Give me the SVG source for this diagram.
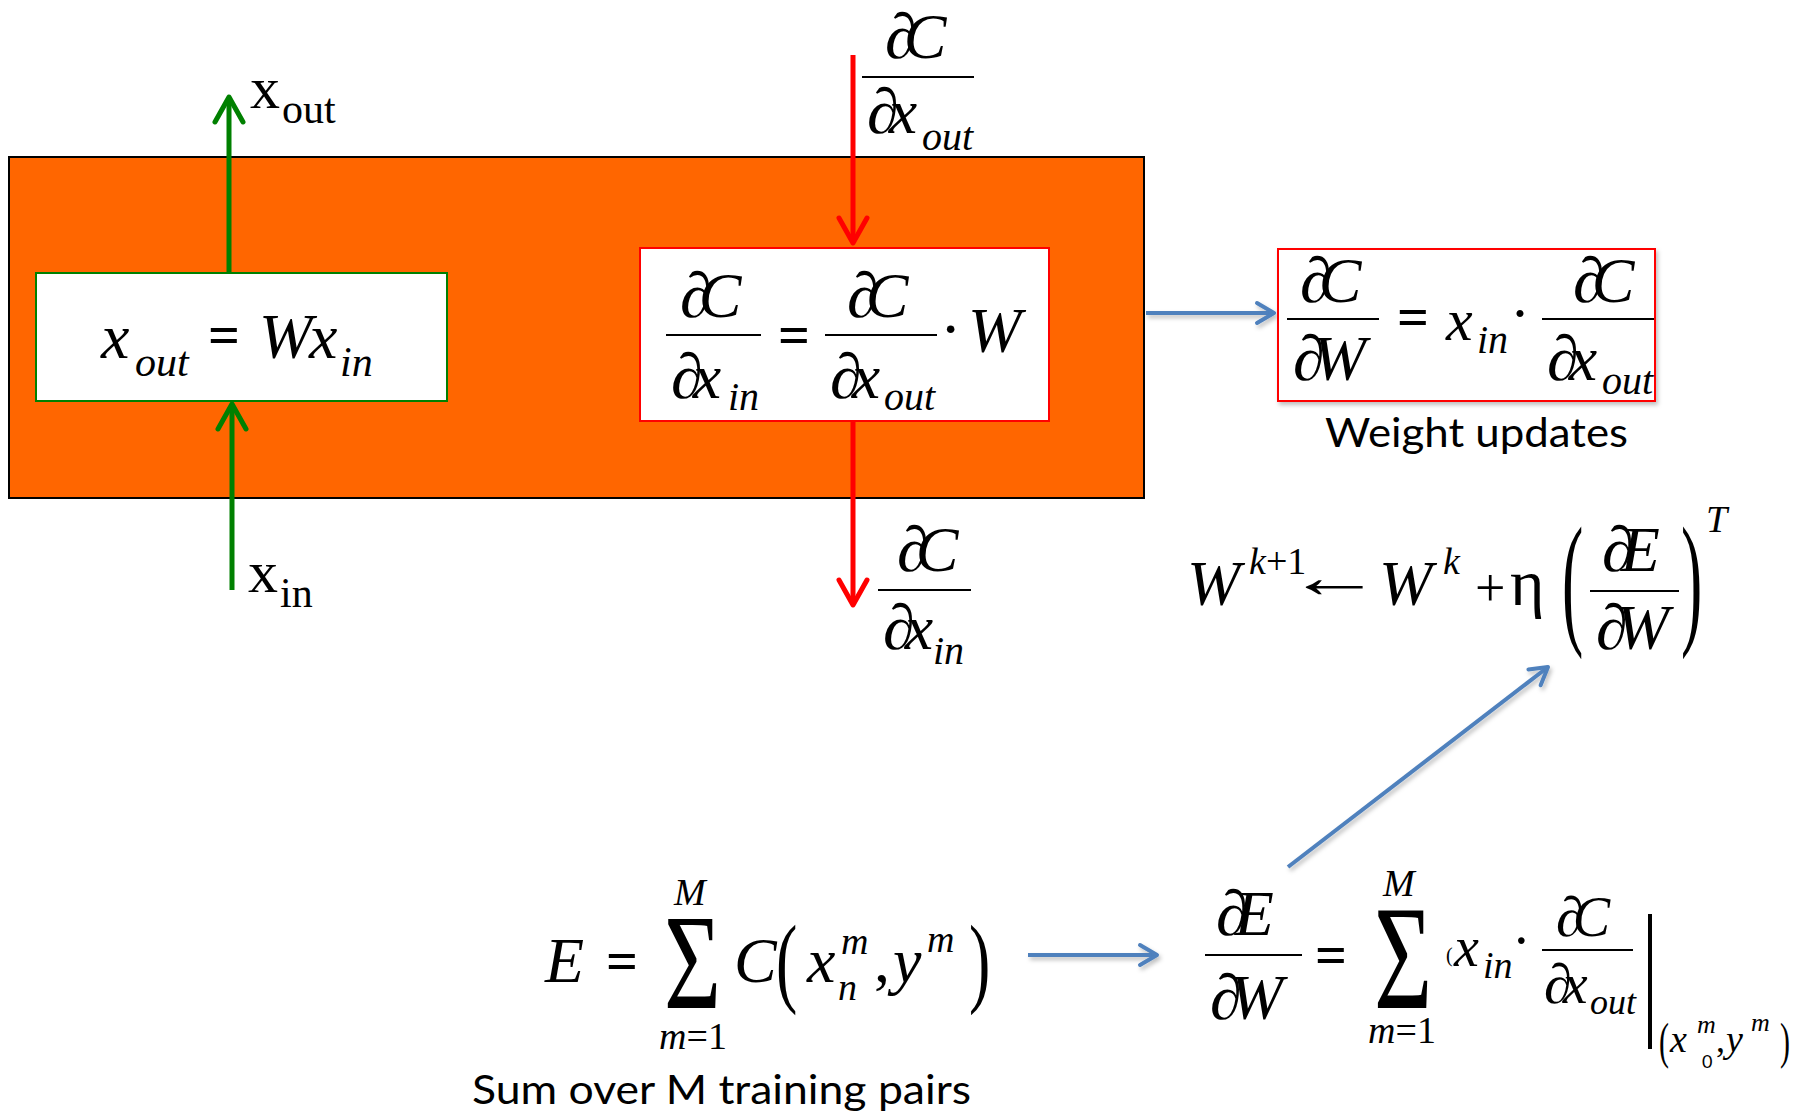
<svg xmlns="http://www.w3.org/2000/svg" width="1807" height="1114" viewBox="0 0 1807 1114">
<style>
.m{font-family:"Liberation Serif","Times New Roman",serif;font-style:italic;fill:#000}
.u{font-family:"Liberation Serif","Times New Roman",serif;font-style:normal;fill:#000}
.lbl{font-family:Lato,"Open Sans",sans-serif;fill:#000}
.fr{stroke:#000;stroke-width:2}
.eq{font-family:"Liberation Serif",serif;font-weight:bold;font-size:56px}
.green{stroke:#008000;stroke-width:5;fill:none}
.red{stroke:#FF0000;stroke-width:5;fill:none}
.blue{stroke:#4F81BD;stroke-width:4;fill:none}
</style>
<defs>
<filter id="sh" filterUnits="userSpaceOnUse" x="0" y="0" width="1807" height="1114">
<feDropShadow dx="2" dy="3" stdDeviation="2" flood-color="#000" flood-opacity="0.25"/>
</filter>
<marker id="ag" markerUnits="userSpaceOnUse" viewBox="-30 -18 34 36" refX="0" refY="0" markerWidth="34" markerHeight="36" orient="auto">
<path d="M-25,-14 L0,0 L-25,14" fill="none" stroke="#008000" stroke-width="5" stroke-linecap="round" stroke-linejoin="round"/>
</marker>
<marker id="ar" markerUnits="userSpaceOnUse" viewBox="-30 -18 34 36" refX="0" refY="0" markerWidth="34" markerHeight="36" orient="auto">
<path d="M-25,-14 L0,0 L-25,14" fill="none" stroke="#FF0000" stroke-width="5" stroke-linecap="round" stroke-linejoin="round"/>
</marker>
<marker id="ab" markerUnits="userSpaceOnUse" viewBox="-22 -14 26 28" refX="0" refY="0" markerWidth="26" markerHeight="28" orient="auto">
<path d="M-17,-10 L0,0 L-17,10" fill="none" stroke="#4F81BD" stroke-width="4" stroke-linecap="round" stroke-linejoin="round"/>
</marker>
</defs>
<rect width="1807" height="1114" fill="#fff"/>

<g id="layer">
<rect x="9" y="157" width="1135" height="341" fill="#FF6600" stroke="#000" stroke-width="2"/>
</g>

<g id="connectors">
<line class="green" x1="229" y1="273" x2="229" y2="97" marker-end="url(#ag)"/>
<line class="green" x1="232" y1="590" x2="232" y2="404" marker-end="url(#ag)"/>
<line class="red" x1="853" y1="55" x2="853" y2="243" marker-end="url(#ar)"/>
<line class="red" x1="853" y1="421" x2="853" y2="605" marker-end="url(#ar)"/>
<g filter="url(#sh)">
<line class="blue" x1="1146" y1="313" x2="1274" y2="313" marker-end="url(#ab)"/>
<line class="blue" x1="1028" y1="955" x2="1157" y2="955" marker-end="url(#ab)"/>
<line class="blue" x1="1288" y1="867" x2="1548" y2="667" marker-end="url(#ab)"/>
</g>
</g>

<g id="forward-box">
<rect x="36" y="273" width="411" height="128" fill="#fff" stroke="#008000" stroke-width="2"/>
<text class="m" x="101" y="358" font-size="64">x</text>
<text class="m" x="135" y="376" font-size="42">out</text>
<text class="u eq" x="208" y="354">=</text>
<text class="m" x="259" y="358" font-size="64">W</text>
<text class="m" x="309" y="358" font-size="64">x</text>
<text class="m" x="340" y="376" font-size="42">in</text>
</g>

<g id="label-xout">
<text class="u" x="250" y="108" font-size="60">x</text>
<text class="u" x="282" y="123" font-size="42">out</text>
</g>
<g id="label-xin">
<text class="u" x="248" y="592" font-size="60">x</text>
<text class="u" x="280" y="607" font-size="42">in</text>
</g>

<g id="grad-out">
<text class="u" x="885" y="58" font-size="64">∂<tspan class="m" dx="-13">C</tspan></text>
<line class="fr" x1="862" y1="77" x2="974" y2="77"/>
<text class="u" x="867" y="133" font-size="64">∂<tspan class="m" dx="-10">x</tspan></text>
<text class="m" x="922" y="150" font-size="40">out</text>
</g>

<g id="backward-box">
<rect x="640" y="248" width="409" height="173" fill="#fff" stroke="#FF0000" stroke-width="2"/>
<text class="u" x="680" y="317" font-size="64">∂<tspan class="m" dx="-13">C</tspan></text>
<line class="fr" x1="666" y1="335" x2="761" y2="335"/>
<text class="u" x="671" y="398" font-size="64">∂<tspan class="m" dx="-10">x</tspan></text>
<text class="m" x="728" y="410" font-size="40">in</text>
<text class="u eq" x="778" y="354">=</text>
<text class="u" x="847" y="317" font-size="64">∂<tspan class="m" dx="-13">C</tspan></text>
<line class="fr" x1="825" y1="335" x2="937" y2="335"/>
<text class="u" x="830" y="398" font-size="64">∂<tspan class="m" dx="-10">x</tspan></text>
<text class="m" x="884" y="410" font-size="40">out</text>
<text class="u" x="940" y="350" font-size="64">·</text>
<text class="m" x="968" y="352" font-size="64">W</text>
</g>

<g id="grad-in">
<text class="u" x="897" y="571" font-size="64">∂<tspan class="m" dx="-13">C</tspan></text>
<line class="fr" x1="878" y1="590" x2="971" y2="590"/>
<text class="u" x="883" y="649" font-size="64">∂<tspan class="m" dx="-10">x</tspan></text>
<text class="m" x="933" y="664" font-size="40">in</text>
</g>

<g id="weight-box">
<rect x="1278" y="249" width="377" height="152" fill="#fff" stroke="#FF0000" stroke-width="2" filter="url(#sh)"/>
<text class="u" x="1300" y="302" font-size="64">∂<tspan class="m" dx="-13">C</tspan></text>
<line class="fr" x1="1287" y1="319" x2="1379" y2="319"/>
<text class="u" x="1293" y="380" font-size="64">∂<tspan class="m" dx="-12">W</tspan></text>
<text class="u eq" x="1397" y="336">=</text>
<text class="m" x="1446" y="340" font-size="60">x</text>
<text class="m" x="1477" y="353" font-size="40">in</text>
<text class="u" x="1510" y="333" font-size="60">·</text>
<text class="u" x="1573" y="302" font-size="64">∂<tspan class="m" dx="-13">C</tspan></text>
<line class="fr" x1="1542" y1="319" x2="1654" y2="319"/>
<text class="u" x="1547" y="380" font-size="64">∂<tspan class="m" dx="-10">x</tspan></text>
<text class="m" x="1602" y="394" font-size="40">out</text>
</g>
<g id="weight-label">
<text class="lbl" x="1325" y="447" font-size="41" textLength="303" lengthAdjust="spacingAndGlyphs">Weight updates</text>
</g>

<g id="update-rule">
<text class="m" x="1187" y="605" font-size="64">W</text>
<text class="m" x="1249" y="574" font-size="38">k<tspan class="u">+1</tspan></text>
<text class="u" font-size="60" transform="translate(1286,597) scale(1.6,1)">←</text>
<text class="m" x="1379" y="605" font-size="64">W</text>
<text class="m" x="1443" y="574" font-size="38">k</text>
<text class="u" x="1475" y="606" font-size="54">+</text>
<text class="u" x="1510" y="605" font-size="66">η</text>
<text class="u" font-size="64" transform="translate(1562,628) scale(1,2.3)">(</text>
<text class="u" x="1602" y="571" font-size="64">∂<tspan class="m" dx="-13">E</tspan></text>
<line class="fr" x1="1590" y1="591" x2="1679" y2="591"/>
<text class="u" x="1596" y="649" font-size="64">∂<tspan class="m" dx="-12">W</tspan></text>
<text class="u" font-size="64" transform="translate(1681,628) scale(1,2.3)">)</text>
<text class="m" x="1706" y="532" font-size="38">T</text>
</g>

<g id="cost-sum">
<text class="m" x="545" y="982" font-size="64">E</text>
<text class="u eq" x="606" y="980">=</text>
<text class="u" font-size="98" transform="translate(664,1008) scale(1,1.38)">Σ</text>
<text class="m" x="674" y="905" font-size="38">M</text>
<text class="m" x="659" y="1049" font-size="38">m<tspan class="u">=1</tspan></text>
<text class="m" x="734" y="982" font-size="64">C</text>
<text class="u" font-size="64" transform="translate(776,994) scale(1,1.56)">(</text>
<text class="m" x="807" y="982" font-size="64">x</text>
<text class="m" x="841" y="954" font-size="38">m</text>
<text class="m" x="838" y="1000" font-size="38">n</text>
<text class="u" x="874" y="982" font-size="64">,</text>
<text class="m" x="893" y="982" font-size="64">y</text>
<text class="m" x="927" y="952" font-size="38">m</text>
<text class="u" font-size="64" transform="translate(969,994) scale(1,1.56)">)</text>
</g>
<g id="sum-label">
<text class="lbl" x="472" y="1104" font-size="41" textLength="499" lengthAdjust="spacingAndGlyphs">Sum over M training pairs</text>
</g>

<g id="batch-gradient">
<text class="u" x="1216" y="935" font-size="64">∂<tspan class="m" dx="-13">E</tspan></text>
<line class="fr" x1="1205" y1="955" x2="1302" y2="955"/>
<text class="u" x="1210" y="1019" font-size="64">∂<tspan class="m" dx="-12">W</tspan></text>
<text class="u eq" x="1315" y="974">=</text>
<text class="u" font-size="100" transform="translate(1374,1008) scale(1,1.48)">Σ</text>
<text class="m" x="1383" y="896" font-size="38">M</text>
<text class="m" x="1368" y="1043" font-size="38">m<tspan class="u">=1</tspan></text>
<text class="u" x="1446" y="962" font-size="20">(</text>
<text class="m" x="1454" y="966" font-size="56">x</text>
<text class="m" x="1483" y="978" font-size="38">in</text>
<text class="u" x="1512" y="960" font-size="56">·</text>
<text class="u" x="1556" y="936" font-size="56">∂<tspan class="m" dx="-11">C</tspan></text>
<line class="fr" x1="1542" y1="950" x2="1633" y2="950"/>
<text class="u" x="1544" y="1003" font-size="56">∂<tspan class="m" dx="-9">x</tspan></text>
<text class="m" x="1590" y="1014" font-size="36">out</text>
<line x1="1650" y1="914" x2="1650" y2="1049" stroke="#000" stroke-width="4"/>
<text class="u" font-size="30" transform="translate(1659,1058) scale(1,1.7)">(</text>
<text class="m" x="1670" y="1052" font-size="38">x</text>
<text class="m" x="1697" y="1033" font-size="26">m</text>
<text class="lbl" x="1702" y="1068" font-size="18">0</text>
<text class="u" x="1716" y="1052" font-size="36">,</text>
<text class="m" x="1726" y="1052" font-size="38">y</text>
<text class="m" x="1751" y="1031" font-size="26">m</text>
<text class="u" font-size="30" transform="translate(1780,1058) scale(1,1.7)">)</text>
</g>
</svg>
